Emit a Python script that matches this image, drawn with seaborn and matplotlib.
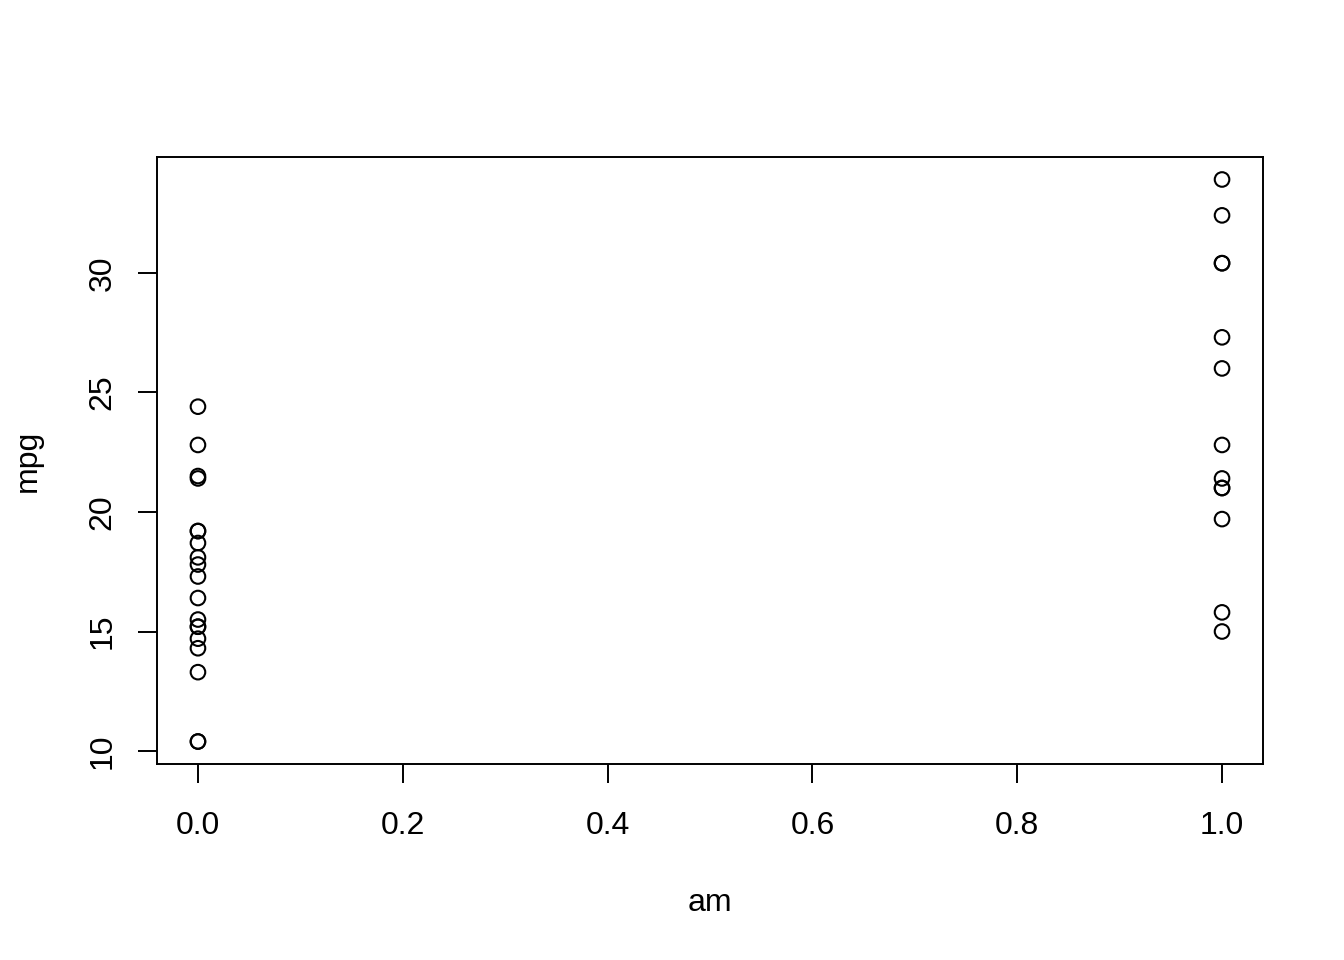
import pandas as pd
import matplotlib
matplotlib.use("Agg")
import matplotlib.pyplot as plt
import seaborn as sns

# mtcars: transmission (0 = automatic, 1 = manual) vs miles per gallon
am = [1, 1, 1, 0, 0, 0, 0, 0, 0, 0, 0, 0, 0, 0, 0, 0,
      0, 1, 1, 1, 0, 0, 0, 0, 0, 1, 1, 1, 1, 1, 1, 1]
mpg = [21.0, 21.0, 22.8, 21.4, 18.7, 18.1, 14.3, 24.4, 22.8, 19.2, 17.8,
       16.4, 17.3, 15.2, 10.4, 10.4, 14.7, 32.4, 30.4, 33.9, 21.5, 15.5,
       15.2, 13.3, 19.2, 27.3, 26.0, 30.4, 15.8, 19.7, 15.0, 21.4]
x_ticks = [0.0, 0.2, 0.4, 0.6, 0.8, 1.0]
y_ticks = [10, 15, 20, 25, 30]

df = pd.DataFrame({"am": am, "mpg": mpg})

sns.set_style("white")
plt.rcParams["font.family"] = ["Liberation Sans", "DejaVu Sans"]

fig = plt.figure(figsize=(13.44, 9.6), dpi=100)
ax = fig.add_axes([157 / 1344, 1 - 764 / 960, (1263 - 157) / 1344, (764 - 157) / 960])

sns.scatterplot(data=df, x="am", y="mpg", ax=ax, marker="o", s=110,
                facecolors="none", edgecolor="black", linewidth=1.5)

# R style 4% padding
xr = max(am) - min(am)
yr = max(mpg) - min(mpg)
ax.set_xlim(min(am) - 0.04 * xr, max(am) + 0.04 * xr)
ax.set_ylim(min(mpg) - 0.04 * yr, max(mpg) + 0.04 * yr)

ax.set_xticks(x_ticks)
ax.set_xticklabels([f"{v:.1f}" for v in x_ticks])
ax.set_yticks(y_ticks)
ax.set_yticklabels([str(v) for v in y_ticks], rotation=90, va="center")

ax.tick_params(axis="both", direction="out", length=13.5, width=1.4,
               labelsize=23, color="black", labelcolor="black",
               bottom=True, left=True)
ax.tick_params(axis="x", pad=20)
ax.tick_params(axis="y", pad=15)

for sp in ax.spines.values():
    sp.set_visible(True)
    sp.set_color("black")
    sp.set_linewidth(1.4)

ax.set_xlabel("am", fontsize=23, labelpad=34, color="black")
ax.set_ylabel("mpg", fontsize=23, labelpad=32, color="black")

fig.savefig("out.png", dpi=100, facecolor="white")
plt.close(fig)
